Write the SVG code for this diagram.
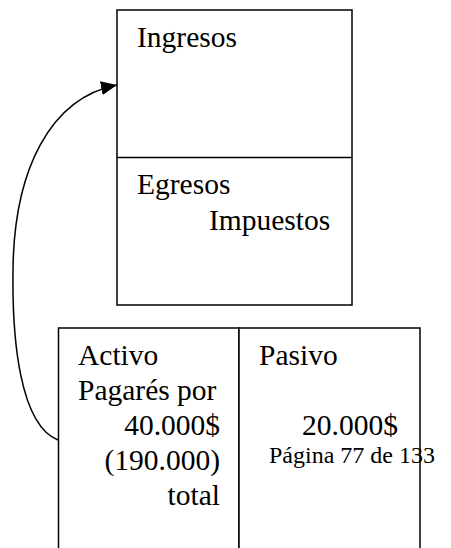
<svg xmlns="http://www.w3.org/2000/svg" width="451" height="548" viewBox="0 0 451 548">
<style>
.box{fill:#fff;stroke:#000;stroke-width:1.5}
.t{font-family:"Liberation Serif","Times New Roman",serif;font-size:29.5px;fill:#000}
.s{font-family:"Liberation Serif","Times New Roman",serif;font-size:24px;fill:#000}
.r{text-anchor:end}
</style>
<defs>
<marker id="ah" markerUnits="userSpaceOnUse" markerWidth="18" markerHeight="16" refX="16" refY="7" orient="auto" viewBox="0 0 18 14">
<path d="M0,0 L16,7 L0,14 z" fill="#000"/>
</marker>
</defs>
<g id="estado-resultados">
<rect class="box" x="117" y="10" width="235" height="295"/>
<line x1="117" y1="157.5" x2="352" y2="157.5" stroke="#000" stroke-width="1.5"/>
<text class="t" x="137" y="47">Ingresos</text>
<text class="t" x="137" y="194">Egresos</text>
<text class="t" x="209" y="230">Impuestos</text>
</g>
<g id="balance-activo">
<rect class="box" x="58.5" y="328" width="180.5" height="240"/>
<text class="t" x="78" y="365">Activo</text>
<text class="t" x="78" y="400">Pagarés por</text>
<text class="t r" x="220" y="435">40.000$</text>
<text class="t r" x="220" y="470">(190.000)</text>
<text class="t r" x="220" y="505">total</text>
</g>
<g id="balance-pasivo">
<rect class="box" x="239" y="328" width="181" height="240"/>
<text class="t" x="259" y="365">Pasivo</text>
<text class="t" x="302" y="435">20.000$</text>
</g>
<g id="connectors">
<path d="M58,440 C20,425 12,340 13,270 C14,170 50,98 117,85" fill="none" stroke="#000" stroke-width="1.5" marker-end="url(#ah)"/>
</g>
<text class="s" x="269" y="463">Página 77 de 133</text>
</svg>
